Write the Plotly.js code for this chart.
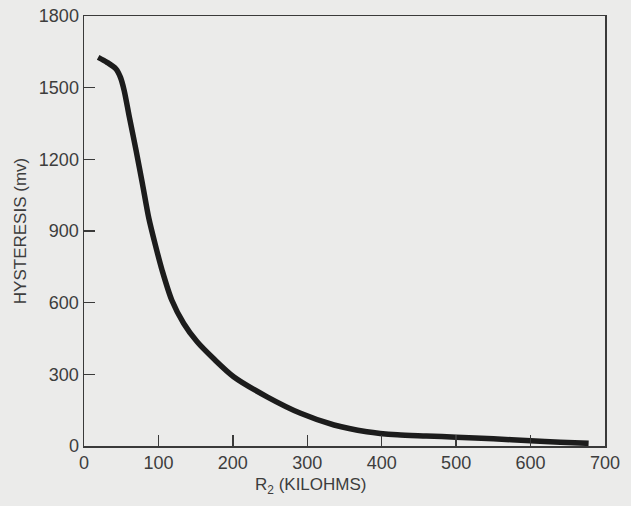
<!DOCTYPE html>
<html>
<head>
<meta charset="utf-8">
<script src="https://cdn.plot.ly/plotly-3.0.1.min.js"></script>
<style>
html,body{margin:0;padding:0;background:#ebebea;}
#chart{width:631px;height:506px;}
</style>
</head>
<body>
<div id="chart"></div>
<script>
// Resistance R2 (kilohms)
var resistance = [19, 31, 43, 49, 54, 61, 70, 78.5, 87, 96, 105, 118, 134, 152, 174, 201, 246, 291, 336, 380, 421, 460, 500, 550, 600, 640, 678];
// Hysteresis (mv)
var hysteresis = [1627, 1606, 1578, 1543, 1488, 1376, 1237, 1098, 955, 840, 735, 610, 513, 436, 366, 290, 206, 137, 88, 60, 47, 42, 37, 30, 22, 16, 11];

var xTicks = [0, 100, 200, 300, 400, 500, 600, 700];
var yTicks = [0, 300, 600, 900, 1200, 1500, 1800];
var xTitle = "R<sub>2</sub> (KILOHMS)";
var yTitle = "HYSTERESIS (mv)";

var trace = {
  x: resistance,
  y: hysteresis,
  type: 'scatter',
  mode: 'lines',
  line: {color: '#1c1c1c', width: 5.5, shape: 'spline', smoothing: 0.8},
  hoverinfo: 'x+y'
};

var axisCommon = {
  showgrid: false,
  zeroline: false,
  showline: true,
  linecolor: '#3a3a3a',
  linewidth: 1.5,
  mirror: true,
  ticks: 'inside',
  ticklen: 11,
  tickwidth: 1.3,
  tickcolor: '#3a3a3a',
  tickfont: {family: 'Liberation Sans, Arial, sans-serif', size: 18, color: '#3d3d3d'}
};

var layout = {
  width: 631,
  height: 506,
  margin: {l: 84, r: 26, t: 16, b: 60},
  paper_bgcolor: '#ebebea',
  plot_bgcolor: '#ebebea',
  showlegend: false,
  xaxis: Object.assign({}, axisCommon, {
    range: [0, 700],
    tickmode: 'array',
    tickvals: xTicks,
    ticktext: xTicks.map(String)
  }),
  yaxis: Object.assign({}, axisCommon, {
    range: [0, 1800],
    tickmode: 'array',
    tickvals: yTicks,
    ticktext: yTicks.map(String),
    title: {text: yTitle, font: {family: 'Liberation Sans, Arial, sans-serif', size: 17, color: '#3d3d3d'}, standoff: 8}
  }),
  annotations: [{
    text: xTitle,
    xref: 'paper', yref: 'paper',
    x: (310 - 84) / 521, y: 0,
    yshift: -40,
    xanchor: 'center', yanchor: 'middle',
    showarrow: false,
    font: {family: 'Liberation Sans, Arial, sans-serif', size: 17, color: '#3d3d3d'}
  }]
};

Plotly.newPlot('chart', [trace], layout, {displayModeBar: false, staticPlot: true});
</script>
</body>
</html>
